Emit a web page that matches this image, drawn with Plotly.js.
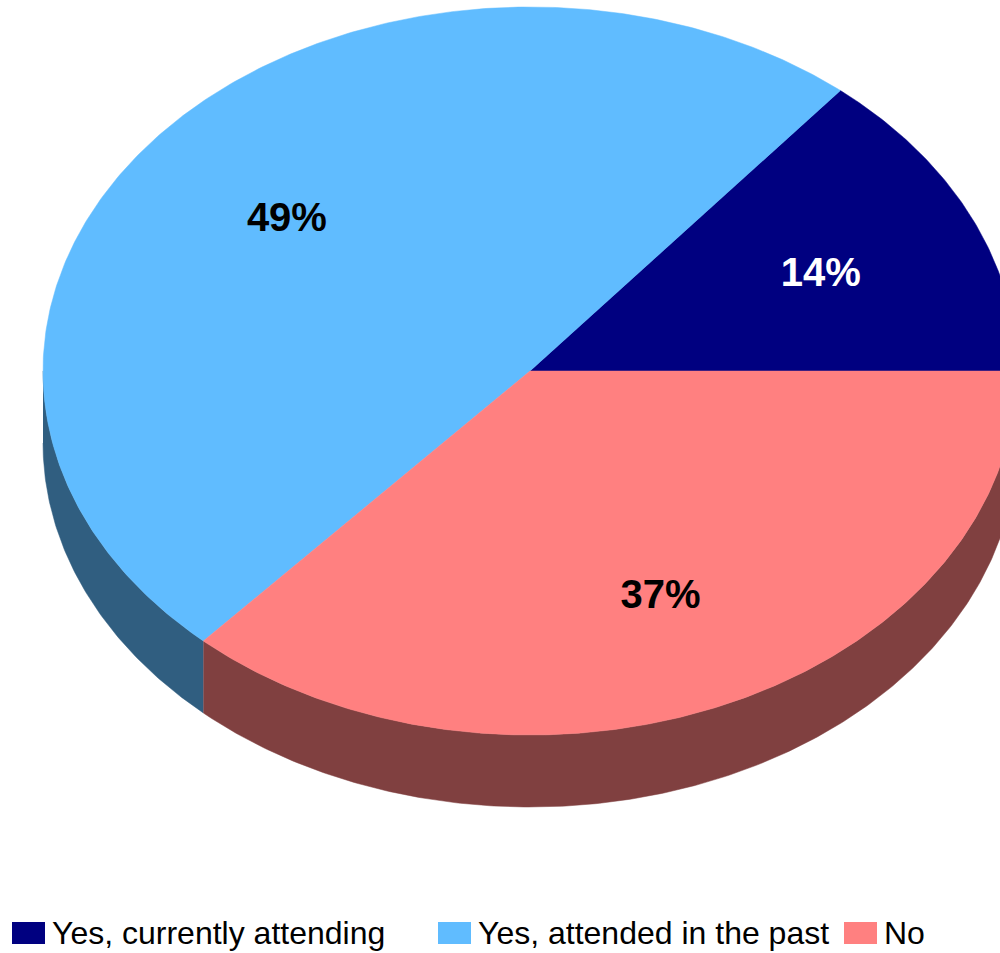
<!DOCTYPE html>
<html><head><meta charset="utf-8">
<script src="https://cdn.plot.ly/plotly-3.0.1.min.js"></script>
<style>html,body{margin:0;padding:0;background:#fff}#chart{width:1000px;height:953px}</style>
</head><body><div id="chart"></div>
<script>
// ---- data ----
const categories = ["Yes, currently attending", "Yes, attended in the past", "No"];
const shares = [14.0, 49.3, 36.7];          // slice sizes (labels show them rounded)
const topColors = ["#000080", "#60bcff", "#ff8080"];
const sideColors = ["#000040", "#305e80", "#804040"];
const labelColors = ["#ffffff", "#000000", "#000000"];

// ---- geometry of the tilted pie (pixel space) ----
const cx = 530, cy = 371, rx = 487, ry = 364, depth = 72, startDeg = 0, labelFrac = 0.66, labelDy = 7;
const total = shares.reduce((a, b) => a + b, 0);
function pt(deg, dy) {
  const r = deg * Math.PI / 180;
  return [cx + rx * Math.cos(r), cy - ry * Math.sin(r) + (dy || 0)];
}
function arc(a0, a1, dy) {
  const xs = [], ys = [];
  const n = Math.max(2, Math.ceil(Math.abs(a1 - a0) / 0.5));
  for (let k = 0; k <= n; k++) {
    const p = pt(a0 + (a1 - a0) * k / n, dy);
    xs.push(p[0]); ys.push(p[1]);
  }
  return [xs, ys];
}

const sideTraces = [], topTraces = [];
const lx = [], ly = [], lt = [];
let acc = startDeg;
shares.forEach((v, i) => {
  const a0 = acc, a1 = acc + v / total * 360;
  acc = a1;
  // side wall (visible for the front half: 180..360 degrees)
  const lo = Math.max(a0, 180), hi = Math.min(a1, 360);
  if (hi > lo) {
    const [tx, ty] = arc(lo, hi, 0);
    const [bx, by] = arc(hi, lo, depth);
    sideTraces.push({
      type: "scatter", mode: "lines", x: tx.concat(bx), y: ty.concat(by),
      fill: "toself", fillcolor: sideColors[i],
      line: {color: sideColors[i], width: 0.5},
      hoverinfo: "skip", showlegend: false
    });
  }
  // top face
  const [ax, ay] = arc(a0, a1, 0);
  topTraces.push({
    type: "scatter", mode: "lines", x: [cx].concat(ax, [cx]), y: [cy].concat(ay, [cy]),
    fill: "toself", fillcolor: topColors[i],
    line: {color: topColors[i], width: 0.5},
    name: categories[i], hoverinfo: "skip", showlegend: false
  });
  const mid = (a0 + a1) / 2 * Math.PI / 180;
  lx.push(cx + labelFrac * rx * Math.cos(mid));
  ly.push(cy - labelFrac * ry * Math.sin(mid) + labelDy);
  lt.push("<b>" + Math.round(v / total * 100) + "%</b>");
});

const labelTrace = {
  type: "scatter", mode: "text", x: lx, y: ly, text: lt,
  textposition: "middle center",
  textfont: {family: "Liberation Sans, Arial, sans-serif", size: 40, color: labelColors},
  hoverinfo: "skip", showlegend: false
};

// ---- legend (manual, to match the wide swatches) ----
const legendX = [12, 438, 844], legendY = 933, swW = 33, swH = 22, textGap = 41;
const shapes = categories.map((c, i) => ({
  type: "rect", xref: "x", yref: "y",
  x0: legendX[i], x1: legendX[i] + swW, y0: legendY - swH / 2, y1: legendY + swH / 2,
  fillcolor: topColors[i], line: {width: 0}
}));
const annotations = categories.map((c, i) => ({
  xref: "x", yref: "y", x: legendX[i] + textGap - 3, y: legendY,
  xanchor: "left", yanchor: "middle", showarrow: false, text: c,
  font: {family: "Liberation Sans, Arial, sans-serif", size: 32, color: "#000000"}
}));

const layout = {
  width: 1000, height: 953,
  margin: {l: 0, r: 0, t: 0, b: 0, pad: 0},
  paper_bgcolor: "#ffffff", plot_bgcolor: "#ffffff",
  xaxis: {range: [0, 1000], visible: false, fixedrange: true},
  yaxis: {range: [953, 0], visible: false, fixedrange: true},
  showlegend: false, shapes: shapes, annotations: annotations,
  hovermode: false
};

Plotly.newPlot("chart", sideTraces.concat(topTraces, [labelTrace]), layout, {displayModeBar: false, staticPlot: true});
</script>
</body></html>
